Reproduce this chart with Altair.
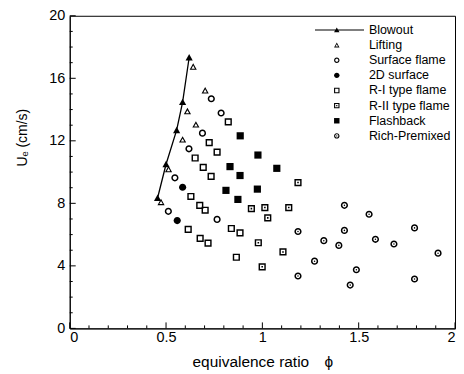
import altair as alt
import pandas as pd

# ---------------- data ----------------
series_names = ["Blowout", "Lifting", "Surface flame", "2D surface",
                "R-I type flame", "R-II type flame", "Flashback", "Rich-Premixed"]

blowout_phi = [0.456, 0.500, 0.555, 0.586, 0.620]
blowout_u = [8.34, 10.50, 12.68, 14.48, 17.33]

lifting_phi = [0.641, 0.703, 0.611, 0.655, 0.586, 0.513, 0.474]
lifting_u = [16.74, 15.22, 13.89, 13.04, 12.08, 10.18, 8.08]

surface_phi = [0.735, 0.786, 0.689, 0.619, 0.546, 0.512, 0.765]
surface_u = [14.69, 13.78, 12.49, 11.49, 9.63, 7.49, 6.97]

surf2d_phi = [0.586, 0.558]
surf2d_u = [9.03, 6.90]

r1_phi = [0.823, 0.724, 0.765, 0.651, 0.693, 0.734, 0.629, 0.675, 0.703,
          0.615, 0.839, 0.884, 0.677, 0.718, 0.865]
r1_u = [13.21, 11.89, 11.28, 10.90, 10.30, 9.73, 8.44, 7.87, 7.56,
        6.33, 6.39, 6.11, 5.76, 5.46, 4.55]

r2_phi = [0.943, 0.979, 1.185, 1.013, 1.137, 1.028, 1.107, 0.999]
r2_u = [7.66, 5.48, 9.33, 7.73, 7.73, 7.07, 4.89, 3.94]

flash_phi = [0.885, 0.977, 0.832, 1.075, 0.884, 0.811, 0.974, 0.873]
flash_u = [12.32, 11.09, 10.35, 10.24, 9.78, 8.83, 8.91, 8.25]

rich_phi = [1.426, 1.554, 1.185, 1.319, 1.426, 1.397, 1.587, 1.683,
            1.790, 1.912, 1.271, 1.488, 1.456, 1.185, 1.790]
rich_u = [7.87, 7.30, 6.20, 5.61, 6.27, 5.31, 5.70, 5.40,
          6.43, 4.81, 4.30, 3.75, 2.77, 3.35, 3.16]

x_major_ticks = [0, 0.5, 1, 1.5, 2]
x_minor_ticks = [0.1, 0.2, 0.3, 0.4, 0.6, 0.7, 0.8, 0.9,
                 1.1, 1.2, 1.3, 1.4, 1.6, 1.7, 1.8, 1.9]
y_major_ticks = [0, 4, 8, 12, 16, 20]
y_minor_ticks = [1, 2, 3, 5, 6, 7, 9, 10, 11, 13, 14, 15, 17, 18, 19]

# ---------------- marker shapes (filled paths, unit box) ----------------
TRI = "M-1,0.85L0,-0.95L1,0.85Z"
TRI_HOLE = "M0.48,0.53L0,-0.32L-0.48,0.53Z"
CIRC = "M1,0A1,1,0,1,1,-1,0A1,1,0,1,1,1,0Z"
CIRC_HOLE = "M0.58,0A0.58,0.58,0,1,0,-0.58,0A0.58,0.58,0,1,0,0.58,0Z"
DOT_C = "M0.22,0A0.22,0.22,0,1,1,-0.22,0A0.22,0.22,0,1,1,0.22,0Z"
SQ = "M-1,-1H1V1H-1Z"
SQ_HOLE = "M-0.6,-0.6V0.6H0.6V-0.6Z"
DOT_S = "M-0.22,-0.22H0.22V0.22H-0.22Z"
BLOW = "M-8,-0.16H10V0.16H-8Z " + TRI

shape_paths = [
    BLOW,
    TRI + " " + TRI_HOLE,
    CIRC + " " + CIRC_HOLE,
    CIRC,
    SQ + " " + SQ_HOLE,
    SQ + " " + SQ_HOLE + " " + DOT_S,
    SQ,
    CIRC + " " + CIRC_HOLE + " " + DOT_C,
]

rows = []
for name, ph, uu in [
    ("Lifting", lifting_phi, lifting_u),
    ("Surface flame", surface_phi, surface_u),
    ("2D surface", surf2d_phi, surf2d_u),
    ("R-I type flame", r1_phi, r1_u),
    ("R-II type flame", r2_phi, r2_u),
    ("Flashback", flash_phi, flash_u),
    ("Rich-Premixed", rich_phi, rich_u),
]:
    for p, u in zip(ph, uu):
        rows.append({"series": name, "phi": p, "U": u})
df_pts = pd.DataFrame(rows)
df_blow = pd.DataFrame({"phi": blowout_phi, "U": blowout_u})
df_xmaj = pd.DataFrame({"phi": x_major_ticks})
df_xmin = pd.DataFrame({"phi": x_minor_ticks})
df_ymaj = pd.DataFrame({"U": y_major_ticks})
df_ymin = pd.DataFrame({"U": y_minor_ticks})

W, H = 387, 314
FONT = "Liberation Sans, Arial, Helvetica, sans-serif"

xs = alt.Scale(domain=[0, 2], nice=False, zero=False)
ys = alt.Scale(domain=[0, 20], nice=False, zero=False)

x_axis = alt.Axis(values=x_major_ticks, format="~g", ticks=False,
                  labelPadding=2, title="equivalence ratio\u2002\u2002\u03d5",
                  titlePadding=11, labelFontSize=14.5, titleFontSize=15.5)
y_axis = alt.Axis(values=y_major_ticks, format="~g", ticks=False,
                  labelPadding=5, title="U\u2091  (cm/s)",
                  titleX=-40, titleY=122, titleAnchor="middle",
                  labelFontSize=14.5, titleFontSize=14)

X = alt.X("phi:Q", scale=xs, axis=x_axis)
Y = alt.Y("U:Q", scale=ys, axis=y_axis)

main = alt.Chart(df_pts).mark_point(filled=True, color="black", strokeWidth=0,
                                    size=52, opacity=1).encode(
    x=X, y=Y,
    shape=alt.Shape("series:N",
                    scale=alt.Scale(domain=series_names, range=shape_paths),
                    legend=alt.Legend(title=None, orient="none", legendX=262,
                                      legendY=8, labelFont=FONT,
                                      labelFontSize=12.5, labelColor="black",
                                      symbolSize=30, symbolFillColor="black",
                                      symbolStrokeWidth=0, symbolOpacity=1,
                                      labelOffset=26, rowPadding=2.2,
                                      padding=0)),
)

blow_line = alt.Chart(df_blow).mark_line(color="black", strokeWidth=1.3).encode(
    x=X, y=Y, order="phi:Q",
)
blow_pts = alt.Chart(df_blow).mark_point(filled=True, color="black",
                                         strokeWidth=0, size=52, opacity=1,
                                         shape=TRI).encode(x=X, y=Y)


def xticks(df, length):
    return alt.Chart(df).mark_rule(color="black", strokeWidth=1).encode(
        x=X, y=alt.value(H), y2=alt.value(H - length))


def yticks(df, length):
    return alt.Chart(df).mark_rule(color="black", strokeWidth=1).encode(
        y=Y, x=alt.value(0), x2=alt.value(length))


chart = alt.layer(
    main, blow_line, blow_pts,
    xticks(df_xmaj, 6), xticks(df_xmin, 3),
    yticks(df_ymaj, 6), yticks(df_ymin, 3),
).properties(
    width=W, height=H,
    autosize=alt.AutoSizeParams(type="none"),
    padding={"left": 62, "top": 7, "right": 1, "bottom": 44},
).configure_view(
    stroke="black", strokeWidth=1
).configure_axis(
    grid=False, domainColor="black", domainWidth=1,
    labelColor="black", titleColor="black",
    labelFont=FONT, titleFont=FONT, titleFontWeight="normal",
)

chart.save("out.html", embed_options={"renderer": "svg", "actions": False})
